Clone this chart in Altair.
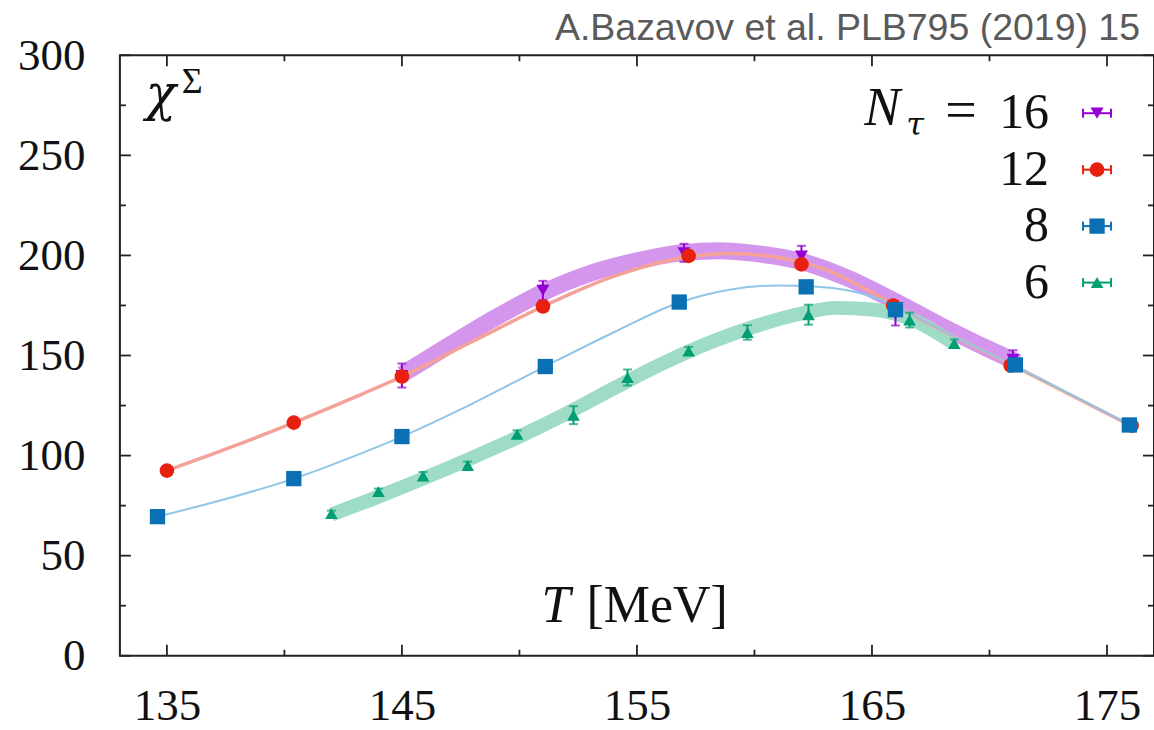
import altair as alt
import pandas as pd

# ---------------- data ----------------
X_DOMAIN = [133, 177]
Y_DOMAIN = [0, 300]
X_MAJOR = [135, 145, 155, 165, 175]
X_MINOR = [140, 150, 160, 170]
Y_MAJOR = [0, 50, 100, 150, 200, 250, 300]
Y_MINOR = [25, 75, 125, 175, 225, 275]

# N_tau = 16 (purple, down triangles)
T16 = [145.0, 151.0, 157.0, 162.0, 166.0, 171.0]
C16 = [140.0, 182.5, 201.3, 199.6, 170.7, 148.0]
E16 = [6.0, 4.8, 4.5, 5.2, 5.7, 4.6]

# N_tau = 12 (red circles)
T12 = [135.0, 140.4, 145.0, 151.0, 157.2, 162.0, 165.9, 170.9, 176.05]
C12 = [92.5, 116.5, 139.5, 174.5, 199.8, 195.5, 175.0, 145.0, 115.0]
E12 = [1.5, 1.5, 2.0, 2.0, 2.0, 2.0, 2.0, 2.0, 1.5]

# N_tau = 8 (blue squares)
T8 = [134.6, 140.4, 145.0, 151.1, 156.8, 162.2, 166.0, 171.1, 175.95]
C8 = [69.5, 88.5, 109.5, 144.5, 176.7, 184.3, 172.9, 145.3, 115.3]
E8 = [1.5, 1.5, 1.5, 1.5, 2.0, 2.0, 2.0, 2.0, 1.5]

# N_tau = 6 (green up triangles)
T6 = [142.0, 144.0, 145.9, 147.8, 149.9, 152.3, 154.6, 157.2, 159.7, 162.3, 166.6, 168.5]
C6 = [71.0, 82.0, 89.8, 95.0, 110.6, 120.2, 139.0, 152.3, 161.5, 170.4, 167.7, 156.0]
E6 = [1.5, 1.5, 2.0, 2.0, 2.0, 4.5, 4.0, 2.0, 3.6, 5.0, 3.7, 2.0]

# fitted curves (centres of the bands / thin lines)
TP = [145, 147, 149, 151, 153, 155, 157, 158.5, 160, 162, 164, 166, 168, 170, 171.2]
CP = [140.5, 155.0, 169.0, 181.5, 191.0, 197.3, 201.5, 202.3, 201.0, 197.0, 188.5, 177.0, 164.5, 153.0, 146.5]

TG = [142, 144, 146, 148, 150, 152, 154, 156, 158, 160, 162, 163.5, 165, 166.5, 168.5]
CG = [70.5, 79.5, 89.0, 99.0, 109.5, 121.0, 133.5, 145.5, 156.0, 164.5, 171.0, 173.8, 173.0, 169.0, 156.0]

TR = [135, 137.5, 140.4, 143, 145, 148, 151, 154, 157, 159, 161, 163, 165, 167, 169, 171, 173.5, 176]
CR = [92.5, 103.2, 116.5, 129.2, 139.5, 157.0, 174.5, 189.5, 199.0, 201.0, 199.0, 193.0, 181.5, 168.5, 156.5, 145.0, 130.0, 115.0]

TB = [134.6, 137.5, 140.4, 142.7, 145, 148, 151, 154, 156.8, 159, 161, 162.5, 164, 165, 166, 168.5, 171, 173.5, 176]
CB = [69.5, 78.3, 88.5, 98.5, 109.5, 126.0, 144.0, 161.5, 176.5, 183.0, 185.0, 184.5, 182.5, 179.5, 174.5, 159.5, 145.3, 130.3, 115.3]

LEGEND_LABELS = ["16", "12", "8", "6"]
POINT_COLORS = ["#9400d3", "#e8200f", "#0a70b3", "#009e73"]
SHAPES = ["triangle-down", "circle", "square", "triangle-up"]
SIZES = [170, 215, 235, 160]

TITLE_TEXT = ["A.Bazavov et al. PLB795 (2019) 15"]

# ---------------- layout ----------------
W, H = 1035, 601
SERIF = "Liberation Serif"
MATH = "DejaVu Serif"

xs = alt.Scale(domain=X_DOMAIN, nice=False, zero=False)
ys = alt.Scale(domain=Y_DOMAIN, nice=False, zero=False)
xaxis = alt.Axis(values=X_MAJOR, labelFont=SERIF, labelFontSize=45, labelColor="#111",
                 labelPadding=28, domain=False, ticks=False, grid=False, title=None,
                 labelFlush=False, labelOverlap=False)
yaxis = alt.Axis(values=Y_MAJOR, labelFont=SERIF, labelFontSize=45, labelColor="#111",
                 labelPadding=35, domain=False, ticks=False, grid=False, title=None,
                 labelFlush=False, labelOverlap=False)


def X(f):
    return alt.X(f, type="quantitative", scale=xs, axis=xaxis)


def Y(f):
    return alt.Y(f, type="quantitative", scale=ys, axis=yaxis)


layers = []

# bands and fitted lines
dfP = pd.DataFrame({"T": TP, "v": CP})
layers.append(alt.Chart(dfP).mark_line(color="#d496ec", strokeWidth=17, strokeCap="butt",
                                       interpolate="monotone").encode(x=X("T"), y=Y("v")))
dfG = pd.DataFrame({"T": TG, "v": CG})
layers.append(alt.Chart(dfG).mark_line(color="#9fdcc7", strokeWidth=14, strokeCap="butt",
                                       interpolate="monotone").encode(x=X("T"), y=Y("v")))
dfR = pd.DataFrame({"T": TR, "v": CR})
layers.append(alt.Chart(dfR).mark_line(color="#f4a198", strokeWidth=3.5,
                                       interpolate="monotone").encode(x=X("T"), y=Y("v")))
dfB = pd.DataFrame({"T": TB, "v": CB})
layers.append(alt.Chart(dfB).mark_line(color="#8fc6e8", strokeWidth=2,
                                       interpolate="monotone").encode(x=X("T"), y=Y("v")))

# points with error bars
for T, C, E, col, shp, sz in zip([T16, T12, T8, T6], [C16, C12, C8, C6], [E16, E12, E8, E6],
                                  POINT_COLORS, SHAPES, SIZES):
    df = pd.DataFrame({"T": T, "c": C, "e": E})
    df["lo"] = df["c"] - df["e"]
    df["hi"] = df["c"] + df["e"]
    layers.append(alt.Chart(df).mark_rule(color=col, strokeWidth=2).encode(
        x=X("T"), y=Y("lo"), y2="hi"))
    layers.append(alt.Chart(df).mark_tick(color=col, orient="horizontal", size=9, thickness=2).encode(
        x=X("T"), y=Y("lo")))
    layers.append(alt.Chart(df).mark_tick(color=col, orient="horizontal", size=9, thickness=2).encode(
        x=X("T"), y=Y("hi")))
    layers.append(alt.Chart(df).mark_point(filled=True, opacity=1, color=col, shape=shp, size=sz).encode(
        x=X("T"), y=Y("c")))

# inward ticks on all four sides
MAJ, MIN = 11, 6
dfYM = pd.DataFrame({"v": Y_MAJOR})
dfYm = pd.DataFrame({"v": Y_MINOR})
dfXM = pd.DataFrame({"T": X_MAJOR})
dfXm = pd.DataFrame({"T": X_MINOR})
tick_style = dict(color="#222", strokeWidth=1.8)
for d, L in [(dfYM, MAJ), (dfYm, MIN)]:
    layers.append(alt.Chart(d).mark_rule(**tick_style).encode(y=Y("v"), x=alt.value(0), x2=alt.value(L)))
    layers.append(alt.Chart(d).mark_rule(**tick_style).encode(y=Y("v"), x=alt.value(W - L), x2=alt.value(W)))
for d, L in [(dfXM, MAJ), (dfXm, MIN)]:
    layers.append(alt.Chart(d).mark_rule(**tick_style).encode(x=X("T"), y=alt.value(H - L), y2=alt.value(H)))
    layers.append(alt.Chart(d).mark_rule(**tick_style).encode(x=X("T"), y=alt.value(0), y2=alt.value(L)))


# ---------------- texts ----------------
def txt(s, x, y, size, align="left", style="normal", color="#111", font=SERIF):
    return alt.Chart(pd.DataFrame({"t": [s]})).mark_text(
        align=align, baseline="alphabetic", font=font, fontSize=size, fontStyle=style,
        color=color).encode(text="t:N", x=alt.value(x), y=alt.value(y))


layers.append(txt(TITLE_TEXT[0], 1021, -15, 37.5, align="right", color="#5a5a5a", font="Liberation Sans"))
layers.append(txt("χ", 26, 55, 50, style="italic", font=MATH))
layers.append(txt("Σ", 62, 38, 36))
layers.append(txt("T", 422, 567, 52, style="italic"))
layers.append(txt("[MeV]", 467, 567, 52))

# legend
LX, LY0, LDY = 978, 58, 56.5
LBL_X, LBL_DY = 930, 15
layers.append(txt("N", 745, 70, 54, style="italic"))
layers.append(txt("τ", 787, 80, 32, style="italic", font=MATH))
layers.append(txt("=", 826, 73, 56))
for i, (lab, col, shp, sz) in enumerate(zip(LEGEND_LABELS, POINT_COLORS, SHAPES, SIZES)):
    yy = LY0 + i * LDY
    layers.append(txt(lab, LBL_X, yy + LBL_DY, 50, align="right"))
    one = pd.DataFrame({"s": [lab]})
    layers.append(alt.Chart(one).mark_rule(color=col, strokeWidth=2).encode(
        x=alt.value(LX - 14), x2=alt.value(LX + 14), y=alt.value(yy)))
    layers.append(alt.Chart(one).mark_rule(color=col, strokeWidth=2).encode(
        x=alt.value(LX - 14), y=alt.value(yy - 4.5), y2=alt.value(yy + 4.5)))
    layers.append(alt.Chart(one).mark_rule(color=col, strokeWidth=2).encode(
        x=alt.value(LX + 14), y=alt.value(yy - 4.5), y2=alt.value(yy + 4.5)))
    layers.append(alt.Chart(one).mark_point(filled=True, opacity=1, color=col, shape=shp, size=sz).encode(
        x=alt.value(LX), y=alt.value(yy)))

chart = alt.layer(*layers).properties(
    width=W, height=H,
    padding={"left": 120, "top": 55, "right": 0, "bottom": 74},
    autosize=alt.AutoSizeParams(type="none"),
    background="white",
).configure_view(stroke="#222", strokeWidth=2)

chart.save("out.html", embed_options={"renderer": "svg", "actions": False})
